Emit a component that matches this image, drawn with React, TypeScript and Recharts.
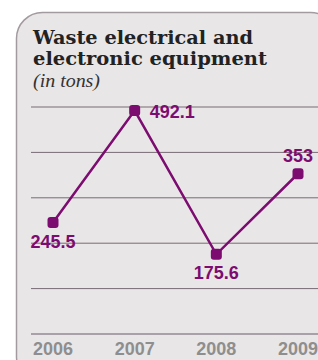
import React from 'react';
import { LineChart, Line, XAxis, YAxis, CartesianGrid, LabelList } from 'recharts';

const years = ['2006', '2007', '2008', '2009'];
const tons = [245.5, 492.1, 175.6, 353];
const valueLabels = ['245.5', '492.1', '175.6', '353'];
const labelSides = ['bottom', 'right', 'bottom', 'top'];
const yTicks = [0, 100, 200, 300, 400, 500];

const data = years.map((y, i) => ({ year: y, value: tons[i], label: valueLabels[i] }));

const PURPLE = '#7c0c70';

const Dot = (props: any) => {
  const { cx, cy, index } = props;
  if (cx == null || cy == null) return null;
  return <rect key={index} x={cx - 5.5} y={cy - 5.5} width={11} height={11} rx={3} ry={3} fill={PURPLE} />;
};

const ValueLabel = (props: any) => {
  const { x, y, index } = props;
  const side = labelSides[index];
  let tx = x, ty = y, anchor: any = 'middle';
  if (side === 'bottom') { ty = y + 25; }
  if (side === 'top') { ty = y - 12; }
  if (side === 'right') { tx = x + 15; ty = y + 7; anchor = 'start'; }
  return (
    <text x={tx} y={ty} textAnchor={anchor} fill={PURPLE} fontFamily="'Liberation Sans', Arial, sans-serif" fontWeight="bold" fontSize={18}>
      {valueLabels[index]}
    </text>
  );
};

export default function App() {
  return (
    <div style={{ position: 'fixed', left: 0, top: 0, width: 318, height: 360, overflow: 'hidden', background: '#ffffff' }}>
      <svg width={318} height={360} style={{ position: 'absolute', left: 0, top: 0 }}>
        <rect x={16.5} y={12.5} width={320} height={370} rx={26} ry={26} fill="#e9e6e8" stroke="#a39aa0" strokeWidth={1.5} />
        <text x={33} y={44} fill="#222" fontFamily="'DejaVu Serif', serif" fontWeight="bold" fontSize={19} textLength={220} lengthAdjust="spacingAndGlyphs">Waste electrical and</text>
        <text x={33} y={65} fill="#222" fontFamily="'DejaVu Serif', serif" fontWeight="bold" fontSize={19} textLength={234} lengthAdjust="spacingAndGlyphs">electronic equipment</text>
        <text x={33} y={87} fill="#333" fontFamily="'Liberation Serif', serif" fontStyle="italic" fontSize={18} textLength={67} lengthAdjust="spacingAndGlyphs">(in tons)</text>
      </svg>
      <div style={{ position: 'absolute', left: 0, top: 0 }}>
        <LineChart width={318} height={360} data={data} margin={{ top: 107, right: 0, bottom: 0, left: 31 }}>
          <CartesianGrid vertical={false} stroke="#776b73" strokeWidth={1} />
          <YAxis hide domain={[0, 500]} ticks={yTicks} />
          <XAxis
            dataKey="year"
            height={26}
            padding={{ left: 22, right: 20 }}
            axisLine={{ stroke: '#a8a1a7', strokeWidth: 2 }}
            tickLine={false}
            tick={{ fill: '#8e8e8e', fontSize: 18, fontWeight: 'bold', fontFamily: "'Liberation Sans', Arial, sans-serif" }}
            interval={0}
          />
          <Line
            type="linear"
            dataKey="value"
            stroke={PURPLE}
            strokeWidth={2.5}
            dot={<Dot />}
            activeDot={false}
            isAnimationActive={false}
          >
            <LabelList dataKey="label" content={<ValueLabel />} />
          </Line>
        </LineChart>
      </div>
    </div>
  );
}
